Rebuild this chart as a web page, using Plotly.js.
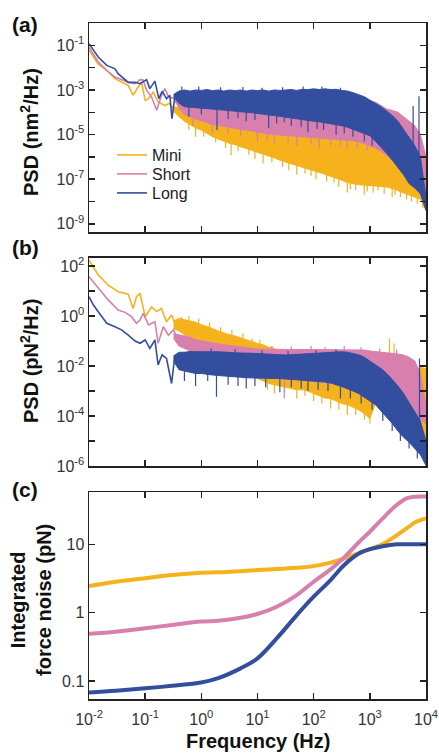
<!DOCTYPE html>
<html>
<head>
<meta charset="utf-8">
<script src="https://cdn.plot.ly/plotly-3.0.1.min.js"></script>
<style>html,body{margin:0;padding:0;background:#fff;}#chart{width:439px;height:755px;}</style>
</head>
<body>
<div id="chart"></div>
<script>
// ---------- series names / colours ----------
const seriesNames = ["Mini", "Short", "Long"];
const seriesColors = ["#F6B21C", "#D87FAE", "#334E9F"];

// ---------- axis ticks ----------
const freqTicks = [0.01, 0.1, 1, 10, 100, 1000, 10000];
const freqTickText = ["10<sup>-2</sup>", "10<sup>-1</sup>", "10<sup>0</sup>", "10<sup>1</sup>", "10<sup>2</sup>", "10<sup>3</sup>", "10<sup>4</sup>"];
const aTicks = [1, 0.1, 0.01, 1e-3, 1e-4, 1e-5, 1e-6, 1e-7, 1e-8, 1e-9];
const aTickText = ["", "10<sup>-1</sup>", "", "10<sup>-3</sup>", "", "10<sup>-5</sup>", "", "10<sup>-7</sup>", "", "10<sup>-9</sup>"];
const bTicks = [100, 10, 1, 0.1, 0.01, 1e-3, 1e-4, 1e-5, 1e-6];
const bTickText = ["10<sup>2</sup>", "", "10<sup>0</sup>", "", "10<sup>-2</sup>", "", "10<sup>-4</sup>", "", "10<sup>-6</sup>"];
const cTicks = [0.1, 1, 10];
const cTickText = ["0.1", "1", "10"];

// ---------- panel (a): PSD (nm^2/Hz), low-frequency lines ----------
const a_mini_f = [0.01, 0.0146, 0.0207, 0.029, 0.05, 0.061, 0.075, 0.086, 0.1, 0.115, 0.139, 0.17, 0.224, 0.27, 0.32];
const a_mini_v = [0.060, 0.0145, 0.0076, 0.0032, 0.0016, 0.00058, 0.00135, 0.0022, 0.00034, 0.00041, 0.00079, 0.00029, 0.0002, 0.00025, 0.00014];
const a_short_f = [0.01, 0.0146, 0.0207, 0.029, 0.05, 0.066, 0.081, 0.092, 0.106, 0.13, 0.16, 0.196, 0.224, 0.26, 0.32];
const a_short_v = [0.083, 0.018, 0.0076, 0.0038, 0.0022, 0.0019, 0.0029, 0.0028, 0.00095, 0.00048, 0.000123, 0.00058, 0.00115, 0.0005, 0.00042];
const a_long_f = [0.01, 0.012, 0.0146, 0.0207, 0.029, 0.033, 0.05, 0.066, 0.081, 0.106, 0.121, 0.149, 0.175, 0.201, 0.24, 0.275, 0.30, 0.34];
const a_long_v = [0.12, 0.060, 0.030, 0.0126, 0.0089, 0.0054, 0.0022, 0.0022, 0.0019, 0.0029, 0.00115, 0.0025, 0.00041, 0.00087, 0.00041, 0.00058, 0.000051, 0.00058];

// ---------- dense high-frequency part: band edges (log10 of PSD) on a frequency grid ----------
const bandF = [0.32, 0.4, 0.5, 0.63, 0.79, 1, 1.26, 1.58, 2, 2.5, 3.2, 4, 5, 6.3, 7.9, 10, 12.6, 15.8, 20, 25, 32, 40, 50, 63, 79,
  100, 126, 158, 200, 251, 316, 398, 501, 631, 794, 1000, 1260, 1580, 2000, 2510, 3160, 3980, 5010, 6310, 7940, 10000];

const a_long_up_log = [-3.2, -3.05, -3.0, -3.05, -3.0, -3.02, -2.98, -3.03, -3.0, -3.05, -3.0, -3.03, -3.0, -3.05, -3.0, -3.03, -3.0, -3.05, -3.0, -3.02, -3.0, -2.98, -3.02, -2.97, -2.98,
  -2.95, -2.98, -2.95, -2.98, -2.97, -3.02, -3.05, -3.12, -3.2, -3.3, -3.45, -3.6, -3.75, -3.95, -4.15, -4.4, -4.75, -5.1, -5.5, -6.0, -7.8];
const a_long_lo_log = [-3.3, -3.6, -3.75, -3.78, -3.8, -3.82, -3.84, -3.86, -3.88, -3.9, -3.93, -3.95, -3.97, -4.0, -4.02, -4.05, -4.08, -4.12, -4.15, -4.18, -4.2, -4.25, -4.3, -4.33, -4.36,
  -4.4, -4.43, -4.47, -4.5, -4.55, -4.6, -4.67, -4.75, -4.85, -4.95, -5.05, -5.3, -5.55, -5.85, -6.15, -6.45, -6.8, -7.2, -7.4, -7.65, -8.4];
const a_short_up_log = [-3.35, -3.3, -3.25, -3.2, -3.2, -3.2, -3.2, -3.2, -3.2, -3.2, -3.2, -3.2, -3.2, -3.2, -3.2, -3.2, -3.2, -3.2, -3.2, -3.2, -3.2, -3.2, -3.2, -3.2, -3.2,
  -3.2, -3.2, -3.2, -3.2, -3.2, -3.2, -3.25, -3.3, -3.35, -3.45, -3.5, -3.55, -3.7, -3.85, -3.92, -4.0, -4.2, -4.4, -4.6, -5.0, -6.0];
const a_short_lo_log = [-3.4, -3.8, -4.1, -4.2, -4.3, -4.4, -4.47, -4.55, -4.6, -4.65, -4.7, -4.72, -4.75, -4.8, -4.85, -4.9, -4.93, -4.97, -5.0, -5.03, -5.06, -5.09, -5.1, -5.12, -5.14,
  -5.16, -5.18, -5.19, -5.2, -5.22, -5.24, -5.26, -5.28, -5.32, -5.4, -5.5, -5.6, -5.75, -5.95, -6.1, -6.3, -6.55, -6.8, -7.05, -7.3, -7.8];
const a_mini_up_log = [-3.75, -3.8, -3.9, -4.0, -4.05, -4.1, -4.2, -4.25, -4.3, -4.35, -4.4, -4.45, -4.5, -4.55, -4.6, -4.65, -4.7, -4.75, -4.8, -4.85, -4.9, -4.9, -4.95, -4.95, -5.0,
  -5.0, -5.0, -5.05, -5.05, -5.05, -5.1, -5.1, -5.1, -5.15, -5.2, -5.3, -5.4, -5.55, -5.7, -5.85, -6.0, -6.25, -6.5, -6.7, -6.9, -7.5];
const a_mini_lo_log = [-3.95, -4.2, -4.4, -4.55, -4.7, -4.8, -4.95, -5.1, -5.2, -5.3, -5.4, -5.45, -5.55, -5.62, -5.7, -5.8, -5.88, -5.95, -6.05, -6.15, -6.25, -6.32, -6.4, -6.48, -6.55,
  -6.62, -6.7, -6.78, -6.85, -6.95, -7.05, -7.15, -7.2, -7.25, -7.28, -7.3, -7.3, -7.33, -7.35, -7.42, -7.5, -7.6, -7.7, -7.8, -7.9, -8.4];

// narrow peaks / dips sticking out of the bands (log10 of PSD)
const a_long_spk_f = [0.6, 1.0, 1.9, 3.0, 4.5, 6.3, 9, 15.8, 22, 30, 40, 60, 79, 115, 150, 251, 350, 500, 800, 1100, 5900, 7500,
  0.45, 0.9, 2.2, 5.5, 12, 28, 65, 140, 300];
const a_long_spk_top = [-3.7, -3.77, -3.85, -3.88, -3.92, -3.95, -4.0, -4.08, -4.12, -4.15, -4.2, -4.27, -4.3, -4.37, -4.42, -4.5, -4.6, -4.7, -4.9, -5.1, -3.72, -3.28,
  -2.85, -2.85, -2.88, -2.87, -2.9, -2.88, -2.85, -2.85, -2.9];
const a_long_spk_bot = [-4.2, -4.1, -4.8, -4.3, -4.25, -4.4, -4.35, -4.7, -4.5, -4.45, -4.6, -4.65, -4.9, -4.75, -4.8, -5.0, -4.95, -5.1, -5.3, -5.5, -6.0, -6.3,
  -3.1, -3.1, -3.1, -3.1, -3.1, -3.1, -3.1, -3.1, -3.1];
const a_short_spk_f = [0.7, 1.58, 3, 5, 10, 15, 20, 35, 50, 90, 126, 200, 300, 398, 600, 900];
const a_short_spk_top = [-4.2, -4.5, -4.65, -4.7, -4.85, -4.92, -4.95, -5.02, -5.05, -5.1, -5.13, -5.15, -5.18, -5.22, -5.25, -5.3];
const a_short_spk_bot = [-4.6, -4.95, -5.0, -5.1, -5.3, -5.25, -5.4, -5.35, -5.5, -5.45, -5.6, -5.5, -5.55, -5.65, -5.6, -5.7];
const a_mini_spk_f = [0.6, 0.79, 1.1, 1.8, 2.7, 3.4, 4.5, 7, 9, 12.6, 18, 28, 36, 50, 70, 90, 110, 170, 230, 280, 398, 450, 560, 794, 900,
  1150, 1400, 1800, 2500, 2800, 3500, 4500, 5500, 7000, 8800];
const a_mini_spk_top = [-4.45, -4.65, -4.8, -5.1, -5.27, -5.4, -5.45, -5.6, -5.72, -5.85, -5.95, -6.15, -6.23, -6.35, -6.47, -6.55, -6.6, -6.75, -6.85, -6.95, -7.1, -7.13, -7.17, -7.25, -7.25,
  -7.25, -7.27, -7.3, -7.4, -7.4, -7.5, -7.6, -7.7, -7.8, -8.05];
const a_mini_spk_bot = [-4.8, -5.1, -5.1, -5.35, -5.6, -5.93, -5.75, -5.9, -6.1, -6.3, -6.25, -6.45, -6.6, -6.8, -6.75, -6.85, -7.0, -7.1, -7.15, -7.35, -7.6, -7.45, -7.5, -7.7, -7.55,
  -7.6, -7.5, -7.65, -7.8, -7.7, -7.8, -7.9, -8.0, -8.1, -8.3];

// ---------- panel (b): PSD (pN^2/Hz) ----------
const b_mini_f = [0.01, 0.0146, 0.022, 0.033, 0.05, 0.061, 0.07, 0.081, 0.1, 0.13, 0.16, 0.195, 0.24, 0.295, 0.36, 0.44, 0.5];
const b_mini_v = [170, 44, 17, 9.3, 7.4, 2.0, 5.9, 8.1, 0.93, 2.3, 1.5, 2.0, 0.59, 1.1, 0.37, 0.81, 0.6];
const b_short_f = [0.01, 0.0146, 0.022, 0.033, 0.044, 0.057, 0.07, 0.081, 0.092, 0.115, 0.149, 0.17, 0.21, 0.26, 0.32, 0.39];
const b_short_v = [37, 13, 4.4, 1.74, 1.4, 0.94, 0.51, 0.69, 1.28, 0.44, 0.59, 0.081, 0.37, 0.17, 0.28, 0.093];
const b_long_f = [0.01, 0.012, 0.0146, 0.0207, 0.029, 0.038, 0.05, 0.066, 0.081, 0.1, 0.121, 0.149, 0.17, 0.2, 0.24, 0.295, 0.34];
const b_long_v = [5.9, 2.75, 1.48, 0.51, 0.37, 0.28, 0.17, 0.1, 0.081, 0.11, 0.051, 0.11, 0.011, 0.028, 0.02, 0.002, 0.028];

const b_mini_up_log = [-0.2, -0.1, -0.15, -0.2, -0.25, -0.35, -0.42, -0.5, -0.6, -0.68, -0.75, -0.8, -0.88, -0.95, -1.03, -1.1, -1.15, -1.25, -1.3, -1.45, -1.5, -1.55, -1.6, -1.65, -1.7,
  -1.7, -1.75, -1.8, -1.8, -1.85, -1.9, -1.9, -1.95, -2.0, -2.0, -2.05, -2.1, -2.1, -2.1, -2.15, -2.2, -2.25, -2.25, -2.2, -2.05, -2.1];
const b_mini_lo_log = [-0.5, -0.6, -0.75, -0.9, -1.0, -1.15, -1.3, -1.45, -1.6, -1.8, -1.95, -2.1, -2.2, -2.3, -2.4, -2.5, -2.6, -2.7, -2.75, -2.8, -2.85, -2.9, -2.95, -2.95, -3.0,
  -3.1, -3.2, -3.28, -3.3, -3.4, -3.5, -3.55, -3.65, -3.75, -3.9, -4.1, -3.5, -3.75, -4.0, -4.25, -4.55, -4.8, -5.0, -5.2, -5.4, -5.6];
const b_short_up_log = [-0.7, -0.75, -0.8, -0.85, -0.95, -1.0, -1.05, -1.08, -1.12, -1.15, -1.18, -1.2, -1.24, -1.28, -1.3, -1.32, -1.33, -1.33, -1.33, -1.33, -1.33, -1.33, -1.33, -1.33, -1.33,
  -1.33, -1.33, -1.33, -1.33, -1.33, -1.33, -1.33, -1.33, -1.34, -1.36, -1.4, -1.42, -1.45, -1.47, -1.5, -1.52, -1.56, -1.65, -1.8, -2.3, -3.6];
const b_short_lo_log = [-0.9, -1.2, -1.3, -1.4, -1.5, -1.6, -1.7, -1.8, -1.9, -2.0, -2.1, -2.15, -2.2, -2.3, -2.35, -2.4, -2.45, -2.5, -2.5, -2.5, -2.52, -2.55, -2.55, -2.55, -2.6,
  -2.6, -2.65, -2.65, -2.7, -2.7, -2.75, -2.8, -2.85, -2.9, -2.95, -3.0, -3.1, -3.2, -3.3, -3.45, -3.6, -3.75, -3.85, -4.0, -4.15, -4.3];
const b_long_up_log = [-1.6, -1.45, -1.45, -1.42, -1.43, -1.42, -1.43, -1.43, -1.43, -1.45, -1.45, -1.47, -1.48, -1.5, -1.49, -1.5, -1.52, -1.53, -1.55, -1.55, -1.56, -1.55, -1.54, -1.52, -1.5,
  -1.5, -1.49, -1.48, -1.47, -1.45, -1.43, -1.45, -1.5, -1.55, -1.65, -1.8, -1.95, -2.1, -2.3, -2.55, -2.8, -3.1, -3.45, -3.85, -4.2, -5.0];
const b_long_lo_log = [-1.8, -2.15, -2.2, -2.25, -2.3, -2.3, -2.33, -2.36, -2.38, -2.4, -2.42, -2.44, -2.45, -2.47, -2.48, -2.5, -2.5, -2.5, -2.5, -2.5, -2.52, -2.54, -2.55, -2.57, -2.58,
  -2.6, -2.62, -2.64, -2.68, -2.75, -2.82, -2.9, -3.0, -3.1, -3.25, -3.4, -3.55, -3.8, -4.05, -4.3, -4.6, -4.85, -5.05, -5.3, -5.55, -5.98];

const b_mini_spk_f = [15, 20, 30, 50, 70, 100, 140, 200, 280, 398, 560, 800, 1000, 2240, 2700,
  0.6, 0.9, 1.4, 2.2, 3.5, 5.5, 8, 11];
const b_mini_spk_top = [-2.65, -2.7, -2.8, -2.9, -2.95, -3.05, -3.2, -3.25, -3.4, -3.5, -3.65, -3.85, -4.0, -0.89, -1.1,
  0.0, -0.1, -0.25, -0.45, -0.55, -0.7, -0.9, -0.95];
const b_mini_spk_bot = [-2.95, -3.1, -3.05, -3.3, -3.2, -3.4, -3.5, -3.7, -3.75, -3.96, -3.95, -4.15, -4.3, -2.3, -2.3,
  -0.3, -0.4, -0.55, -0.75, -0.85, -1.0, -1.15, -1.25];
const b_short_spk_f = [30, 18, 40, 90, 160, 350, 700, 1500, 3000];
const b_short_spk_top = [-2.5, -1.2, -1.22, -1.2, -1.25, -1.2, -1.25, -1.3, -1.35];
const b_short_spk_bot = [-3.29, -1.4, -1.4, -1.4, -1.4, -1.4, -1.4, -1.5, -1.6];
const b_long_spk_f = [0.5, 0.79, 1.3, 1.86, 3, 4.5, 6.3, 9, 14, 25, 40, 60, 79, 120, 180, 300, 450, 700, 1100, 1700, 2500, 3500, 5000, 7000, 7650,
  1.5, 4, 12, 35, 110, 250];
const b_long_spk_top = [-2.2, -2.25, -2.3, -2.35, -2.4, -2.42, -2.45, -2.47, -2.48, -2.48, -2.5, -2.53, -2.55, -2.58, -2.62, -2.75, -2.9, -3.1, -3.4, -3.8, -4.25, -4.65, -5.0, -5.35, -1.7,
  -1.3, -1.32, -1.38, -1.4, -1.36, -1.33];
const b_long_spk_bot = [-2.6, -2.8, -2.6, -3.23, -2.75, -2.8, -2.9, -2.8, -2.85, -3.05, -2.85, -2.9, -3.0, -2.95, -3.0, -3.3, -3.3, -3.5, -3.75, -4.2, -4.6, -5.0, -5.3, -5.7, -5.5,
  -1.6, -1.6, -1.6, -1.6, -1.6, -1.6];

// ---------- panel (c): integrated force noise (pN) ----------
const c_f = [0.01, 0.03, 0.1, 0.3, 1, 2, 5, 10, 22, 50, 100, 200, 350, 650, 1000, 1700, 3000, 4500, 6700, 10000];
const c_mini = [2.45, 2.83, 3.18, 3.55, 3.84, 3.9, 4.05, 4.2, 4.35, 4.55, 4.8, 5.4, 6.2, 7.5, 8.45, 10.1, 13.5, 17.1, 21.4, 24];
const c_short = [0.49, 0.525, 0.59, 0.66, 0.74, 0.76, 0.84, 0.955, 1.22, 1.81, 2.83, 4.3, 6.45, 10.9, 15.3, 24, 37.6, 47, 49.8, 50];
const c_long = [0.068, 0.072, 0.078, 0.085, 0.095, 0.11, 0.153, 0.214, 0.42, 0.92, 1.71, 3.0, 4.98, 7.4, 8.5, 9.4, 10, 10, 10, 10];

// ---------- build traces ----------
const pow10 = arr => arr.map(v => Math.pow(10, v));
function band(f, upLog, loLog, color, xa, ya) {
  return {
    x: f.concat(f.slice().reverse()),
    y: pow10(upLog).concat(pow10(loLog).reverse()),
    type: "scatter", mode: "lines", fill: "toself", fillcolor: color,
    line: {color: color, width: 1}, showlegend: false, hoverinfo: "skip",
    xaxis: xa, yaxis: ya
  };
}
function spikes(f, topLog, botLog, color, xa, ya) {
  const x = [], y = [];
  f.forEach((fi, i) => { x.push(fi, fi, null); y.push(Math.pow(10, botLog[i]), Math.pow(10, topLog[i]), null); });
  return {x: x, y: y, type: "scatter", mode: "lines", line: {color: color, width: 1.2},
    showlegend: false, hoverinfo: "skip", xaxis: xa, yaxis: ya};
}
function line(f, v, color, xa, ya, name, legendId, w, shape) {
  const t = {
    x: f, y: v, type: "scatter", mode: "lines", name: name,
    line: {color: color, width: w, shape: shape || "linear"},
    showlegend: !!legendId, xaxis: xa, yaxis: ya
  };
  if (legendId) t.legend = legendId;
  return t;
}
const [C0, C1, C2] = seriesColors;

const traces = [
  band(bandF, a_mini_up_log, a_mini_lo_log, C0, "x", "y"),
  spikes(a_mini_spk_f, a_mini_spk_top, a_mini_spk_bot, C0, "x", "y"),
  line(a_mini_f, a_mini_v, C0, "x", "y", seriesNames[0], "legend", 1.6),
  band(bandF, a_short_up_log, a_short_lo_log, C1, "x", "y"),
  spikes(a_short_spk_f, a_short_spk_top, a_short_spk_bot, C1, "x", "y"),
  line(a_short_f, a_short_v, C1, "x", "y", seriesNames[1], "legend2", 1.6),
  band(bandF, a_long_up_log, a_long_lo_log, C2, "x", "y"),
  spikes(a_long_spk_f, a_long_spk_top, a_long_spk_bot, C2, "x", "y"),
  line(a_long_f, a_long_v, C2, "x", "y", seriesNames[2], "legend3", 1.6),

  band(bandF, b_mini_up_log, b_mini_lo_log, C0, "x2", "y2"),
  spikes(b_mini_spk_f, b_mini_spk_top, b_mini_spk_bot, C0, "x2", "y2"),
  line(b_mini_f, b_mini_v, C0, "x2", "y2", seriesNames[0], null, 1.6),
  band(bandF, b_short_up_log, b_short_lo_log, C1, "x2", "y2"),
  spikes(b_short_spk_f, b_short_spk_top, b_short_spk_bot, C1, "x2", "y2"),
  line(b_short_f, b_short_v, C1, "x2", "y2", seriesNames[1], null, 1.6),
  band(bandF, b_long_up_log, b_long_lo_log, C2, "x2", "y2"),
  spikes(b_long_spk_f, b_long_spk_top, b_long_spk_bot, C2, "x2", "y2"),
  line(b_long_f, b_long_v, C2, "x2", "y2", seriesNames[2], null, 1.6),

  line(c_f, c_mini, C0, "x3", "y3", seriesNames[0], null, 4, "spline"),
  line(c_f, c_short, C1, "x3", "y3", seriesNames[1], null, 4, "spline"),
  line(c_f, c_long, C2, "x3", "y3", seriesNames[2], null, 4, "spline")
];

// ---------- layout ----------
const FONT = "Liberation Sans, Arial, Helvetica, sans-serif";
const H = 755, PL = 89, PW = 337;
function py(p) { return 1 - p / H; }
function px(p) { return (p - PL) / PW; }

function xAxis(anchor, showLabels) {
  return {
    type: "log", range: [-2, 4], anchor: anchor, domain: [0, 1],
    tickvals: freqTicks, ticktext: freqTickText, showticklabels: showLabels,
    ticks: "inside", ticklen: 6, tickwidth: 1.5, tickcolor: "#222",
    showline: true, linewidth: 1.5, linecolor: "#222", mirror: "ticks",
    showgrid: false, zeroline: false, ticklabelstandoff: 5,
    tickfont: {family: FONT, size: 16, color: "#333"}
  };
}
function yAxis(anchor, dom, range, tv, tt) {
  return {
    type: "log", range: range, anchor: anchor, domain: dom,
    tickvals: tv, ticktext: tt,
    ticks: "inside", ticklen: 6, tickwidth: 1.5, tickcolor: "#222",
    showline: true, linewidth: 1.5, linecolor: "#222", mirror: "ticks",
    showgrid: false, zeroline: false,
    tickfont: {family: FONT, size: 16, color: "#333"}
  };
}
function legendAt(yc) {
  return {
    x: px(112), y: py(yc), xanchor: "left", yanchor: "middle",
    bgcolor: "rgba(0,0,0,0)", borderwidth: 0,
    font: {family: FONT, size: 16, color: "#222"}
  };
}

const boldTitle = (text, x, y, size, extra) => Object.assign({
  text: text, xref: "paper", yref: "paper", x: x, y: y,
  xanchor: "center", yanchor: "middle", showarrow: false,
  font: {family: FONT, size: size, color: "#111", weight: "bold"}
}, extra || {});

const layout = {
  width: 439, height: 755,
  margin: {l: PL, r: 13, t: 0, b: 0},
  paper_bgcolor: "#fff", plot_bgcolor: "#fff",
  font: {family: FONT, color: "#222"},
  xaxis: xAxis("y", false),
  xaxis2: xAxis("y2", false),
  xaxis3: xAxis("y3", true),
  yaxis: yAxis("x", [py(232), py(23.3)], [-9.37, -0.01], aTicks, aTickText),
  yaxis2: yAxis("x2", [py(466), py(257.5)], [-6, 2.34], bTicks, bTickText),
  yaxis3: yAxis("x3", [py(699), py(492)], [-1.264, 1.766], cTicks, cTickText),
  legend: legendAt(155),
  legend2: legendAt(174),
  legend3: legendAt(193),
  annotations: [
    boldTitle("(a)", px(25), py(25), 21),
    boldTitle("(b)", px(25), py(247), 21),
    boldTitle("(c)", px(25), py(489), 21),
    boldTitle("PSD (nm<sup>2</sup>/Hz)", px(29), py(132), 20, {textangle: -90}),
    boldTitle("PSD (pN<sup>2</sup>/Hz)", px(29), py(361), 20, {textangle: -90}),
    boldTitle("Integrated<br>force noise (pN)", px(31), py(600), 20, {textangle: -90}),
    boldTitle("Frequency (Hz)", px(258), py(741), 20)
  ],
  showlegend: true
};

Plotly.newPlot("chart", traces, layout, {staticPlot: true, displayModeBar: false});
</script>
</body>
</html>
